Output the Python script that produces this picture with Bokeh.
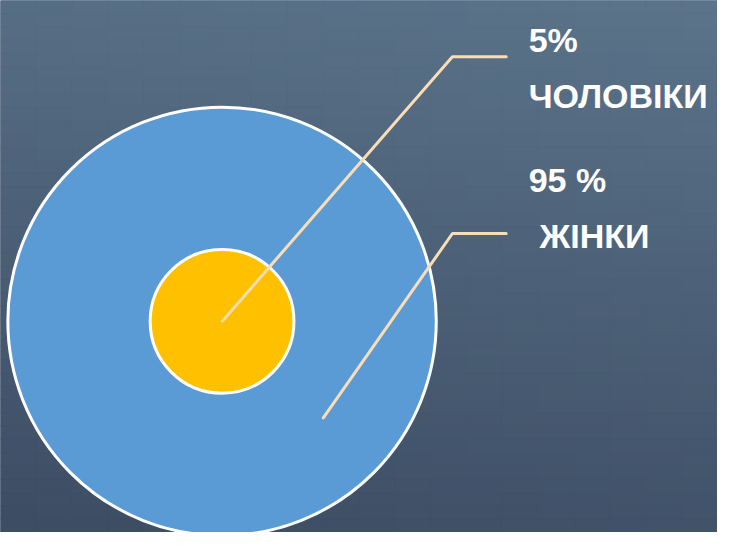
import numpy as np
from bokeh.plotting import figure
from bokeh.models import Range1d
from bokeh.core.properties import value
from bokeh.embed import file_html
from bokeh.resources import INLINE

# ---- data ----
categories = ["ЧОЛОВІКИ", "ЖІНКИ"]
shares = [5, 95]
pct_labels = ["5%", "95 %"]
colors = ["#FFC000", "#5B9BD5"]

# ---- layout (reference pixel space 733 x 548, y downward) ----
W, H = 733, 548
cx, cy = 226.5, 330.5
radii = [73.5, 219.0]          # inner (men), outer (women)

p = figure(width=717, height=532, output_backend="svg", toolbar_location=None,
           x_range=Range1d(0, W), y_range=Range1d(H, 0), min_border=0)
p.axis.visible = False
p.grid.visible = False
p.outline_line_color = None
p.background_fill_color = "#4b5d76"
p.border_fill_color = "#4b5d76"

# background gradient drawn as a grid of quads
ny, nx = 40, 20
ys = np.linspace(0, H, ny + 1)
xs = np.linspace(0, W, nx + 1)
top = np.array([91, 116, 138])
bot = np.array([60, 76, 99])
L, R, T, B, C = [], [], [], [], []
for i in range(ny):
    for j in range(nx):
        yc = (ys[i] + ys[i + 1]) / 2 / H
        xc = (xs[j] + xs[j + 1]) / 2 / W
        t = yc * 0.85 + (1 - xc) * 0.15
        c = top * (1 - t) + bot * t
        L.append(xs[j]); R.append(xs[j + 1]); T.append(ys[i]); B.append(ys[i + 1])
        C.append("#%02x%02x%02x" % tuple(int(round(v)) for v in c))
p.quad(left=L, right=R, top=T, bottom=B, fill_color=C, line_color=C, line_width=1)

# circles: outer (women) first, then inner (men)
p.circle(x=[cx], y=[cy], radius=radii[1], fill_color=colors[1],
         line_color="white", line_width=3)
p.circle(x=[cx], y=[cy], radius=radii[0], fill_color=colors[0],
         line_color="white", line_width=3)

lead = "#FADDB4"
# leader lines
p.line(x=[227, 462, 517], y=[330, 58, 58], line_color=lead, line_width=3, line_cap="round")
p.line(x=[330, 462, 517], y=[430, 240, 240], line_color=lead, line_width=3, line_cap="round")

font = value("Liberation Sans")
fs = "34px"
p.text(x=[540, 540], y=[41, 185], text=pct_labels, text_font=font, text_font_size=fs,
       text_font_style="bold", text_color="white", text_baseline="alphabetic")
p.text(x=[540, 551], y=[98, 243], text=categories, text_font=font, text_font_size=fs,
       text_font_style="bold", text_color="white", text_baseline="alphabetic")

open("out.html", "w").write(file_html(p, INLINE))
